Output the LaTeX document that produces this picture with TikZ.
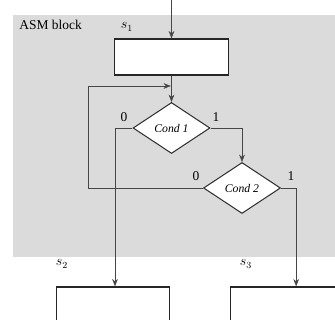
\documentclass[tikz,border=0pt]{standalone}
\usepackage{fontspec}
\setmainfont{Liberation Serif}
\usetikzlibrary{calc,positioning,arrows.meta,shapes.geometric}
\definecolor{asmgray}{RGB}{219,219,219}
\definecolor{asmline}{RGB}{70,70,70}
\tikzset{
  statebox/.style={draw=black!85,fill=white,line width=1.1pt,minimum width=3.40cm,
                   minimum height=1.08cm,inner sep=0pt},
  cond/.style={diamond,draw=black!80,fill=white,line width=0.9pt,minimum width=2.31cm,
               minimum height=1.53cm,inner sep=0pt,font=\itshape},
  lbl/.style={inner sep=1pt,font=\fontsize{11.5}{13}\selectfont},
  arr/.style={-{Stealth[length=2.2mm,width=1.7mm]},thin,asmline}
}

\begin{document}
\begin{tikzpicture}[x=0.03cm,y=-0.03cm,font=\fontsize{11.5}{13}\selectfont]
  \clip (0,0) rectangle (335,320);
  % shaded ASM block
  \fill[asmgray] (13,15) rectangle (336,257);
  \node[lbl,anchor=west] (blk) at (18,25) {ASM block};
  % state s1 and the two decisions
  \node[statebox] (s1) at (171.5,57) {};
  \node[lbl] (l1) at (127,27) {$s_1$};
  \node[cond] (c1) at (171.5,128) {Cond 1};
  \node[cond] (c2) at (242,188) {Cond 2};
  % next states
  \node[statebox] (s2) at (113,305) {};
  \node[statebox] (s3) at (287.5,305) {};
  \node[lbl] (l2) at (62,264) {$s_2$};
  \node[lbl] (l3) at (246,264) {$s_3$};
  % branch labels
  \node[lbl] (c1n) at (124,117) {0};
  \node[lbl] (c1y) at (216,117) {1};
  \node[lbl] (c2n) at (196,176) {0};
  \node[lbl] (c2y) at (291,176) {1};
  % connectors
  \coordinate (in) at (171.5,0);
  \coordinate (join) at (171.5,86);
  \coordinate (back) at (88,86);
  \draw[arr] (in) -- (s1.north);
  \draw[arr] (s1.south) -- (c1.north);
  \draw[arr] (c1.west) -| ([xshift=0.06cm]s2.north);
  \draw[arr] (c1.east) -| (c2.north);
  \draw[arr] (c2.east) -| ([xshift=0.26cm]s3.north);
  \draw[arr] (c2.west) -| (back) -- ([xshift=-0.02cm]join);
\end{tikzpicture}
\end{document}
